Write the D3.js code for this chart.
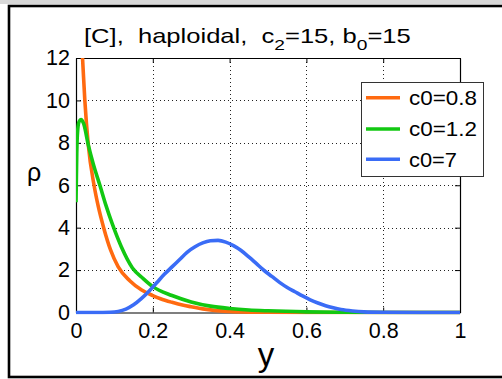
<!DOCTYPE html>
<html>
<head>
<meta charset="utf-8">
<script src="https://d3js.org/d3.v7.min.js"></script>
<style>
  html, body { margin: 0; padding: 0; background: #fff; }
  svg { display: block; font-family: "Liberation Sans", Arial, Helvetica, sans-serif; }
</style>
</head>
<body>
<svg id="chart" width="502" height="379"></svg>
<script>
// Density profiles rho(y) for three values of c0
const seriesNames = ["c0=0.8", "c0=1.2", "c0=7"];
const seriesColors = ["#ff6a10", "#12c812", "#3a6cf6"];

const orangeX = [0.013, 0.017, 0.023, 0.032, 0.047, 0.058, 0.072, 0.09, 0.11, 0.14, 0.171, 0.2, 0.22, 0.25, 0.28, 0.3, 0.33, 0.36, 0.4, 0.45, 0.5, 0.6, 0.8, 1.0];
const orangeY = [13.2, 12.0, 10.0, 7.9, 6.0, 5.0, 4.0, 2.95, 2.15, 1.5, 1.06, 0.8, 0.65, 0.48, 0.34, 0.27, 0.17, 0.1, 0.05, 0.02, 0.01, 0, 0, 0];

const greenX = [0, 0.002, 0.004, 0.008, 0.013, 0.02, 0.032, 0.045, 0.063, 0.078, 0.095, 0.118, 0.147, 0.175, 0.2, 0.25, 0.3, 0.35, 0.4, 0.45, 0.5, 0.6, 0.7, 0.8, 1.0];
const greenY = [5.2, 7.5, 8.5, 9.0, 9.1, 8.9, 7.9, 7.0, 5.95, 5.05, 4.15, 3.1, 2.1, 1.6, 1.22, 0.8, 0.5, 0.3, 0.19, 0.12, 0.08, 0.03, 0.01, 0, 0];

const blueX = [0, 0.05, 0.09, 0.11, 0.13, 0.15, 0.17, 0.19, 0.21, 0.23, 0.25, 0.27, 0.29, 0.31, 0.33, 0.35, 0.37, 0.39, 0.41, 0.43, 0.45, 0.47, 0.49, 0.51, 0.53, 0.55, 0.57, 0.59, 0.61, 0.63, 0.65, 0.67, 0.69, 0.72, 0.75, 0.8, 0.9, 1.0];
const blueY = [0, 0, 0.01, 0.05, 0.16, 0.36, 0.65, 1.0, 1.4, 1.8, 2.15, 2.5, 2.85, 3.1, 3.28, 3.38, 3.4, 3.32, 3.15, 2.92, 2.62, 2.3, 1.98, 1.7, 1.42, 1.18, 0.98, 0.78, 0.6, 0.45, 0.32, 0.22, 0.14, 0.07, 0.03, 0.01, 0, 0];

const xTicks = [0, 0.2, 0.4, 0.6, 0.8, 1];
const yTicks = [0, 2, 4, 6, 8, 10, 12];

const series = [
  { name: seriesNames[0], color: seriesColors[0], pts: orangeX.map((x, i) => [x, orangeY[i]]) },
  { name: seriesNames[1], color: seriesColors[1], pts: greenX.map((x, i) => [x, greenY[i]]) },
  { name: seriesNames[2], color: seriesColors[2], pts: blueX.map((x, i) => [x, blueY[i]]) }
];

const svg = d3.select("#chart");
const plot = { left: 76, right: 460, top: 58, bottom: 312.5 };

const x = d3.scaleLinear().domain([0, 1]).range([plot.left, plot.right]);
const y = d3.scaleLinear().domain([0, 12]).range([plot.bottom, plot.top]);

// stretch a text element horizontally to a given width, keeping its left edge
function fitWidth(sel, x0, width) {
  const w = sel.node().getComputedTextLength();
  sel.attr("transform", `translate(${x0},0) scale(${width / w},1) translate(${-x0},0)`);
}

// figure frame
svg.append("rect").attr("x", 0).attr("y", 0).attr("width", 502).attr("height", 4).attr("fill", "#d8d8d8");
svg.append("rect").attr("x", 9).attr("y", 6).attr("width", 500).attr("height", 371)
  .attr("fill", "#fff").attr("stroke", "#000").attr("stroke-width", 2.6);

// plot background
svg.append("rect").attr("x", plot.left).attr("y", plot.top)
  .attr("width", plot.right - plot.left).attr("height", plot.bottom - plot.top).attr("fill", "#fff");

// dotted grid
const grid = svg.append("g").attr("stroke", "#222").attr("stroke-width", 1).attr("stroke-dasharray", "1,3");
grid.selectAll("line.gx").data(xTicks.slice(1, -1)).join("line")
  .attr("x1", d => Math.round(x(d)) + 0.5).attr("x2", d => Math.round(x(d)) + 0.5)
  .attr("y1", plot.top).attr("y2", plot.bottom);
grid.selectAll("line.gy").data(yTicks.slice(1, -1)).join("line")
  .attr("y1", d => Math.round(y(d)) + 0.5).attr("y2", d => Math.round(y(d)) + 0.5)
  .attr("x1", plot.left).attr("x2", plot.right);

// axes with inward ticks
const fmt = d => String(d);
const axB = svg.append("g").attr("transform", `translate(0,${plot.bottom})`)
  .call(d3.axisBottom(x).tickValues(xTicks).tickFormat(fmt).tickSizeInner(-5).tickSizeOuter(0).tickPadding(10));
const axL = svg.append("g").attr("transform", `translate(${plot.left},0)`)
  .call(d3.axisLeft(y).tickValues(yTicks).tickFormat(fmt).tickSizeInner(-5).tickSizeOuter(0).tickPadding(6));
const axT = svg.append("g").attr("transform", `translate(0,${plot.top})`)
  .call(d3.axisTop(x).tickValues(xTicks).tickFormat("").tickSizeInner(-5).tickSizeOuter(0));
const axR = svg.append("g").attr("transform", `translate(${plot.right},0)`)
  .call(d3.axisRight(y).tickValues(yTicks).tickFormat("").tickSizeInner(-5).tickSizeOuter(0));
[axB, axL, axT, axR].forEach(g => {
  g.selectAll("path.domain").attr("stroke", "#000").attr("stroke-width", 1.2);
  g.selectAll(".tick line").attr("stroke", "#000");
  g.selectAll("text").attr("font-size", 21.5).attr("fill", "#000")
    .attr("font-family", "'Liberation Sans', Arial, sans-serif");
});

// curves
svg.append("clipPath").attr("id", "plotclip").append("rect")
  .attr("x", plot.left).attr("y", plot.top)
  .attr("width", plot.right - plot.left).attr("height", plot.bottom - plot.top + 2);

const line = d3.line().x(d => x(d[0])).y(d => y(d[1])).curve(d3.curveMonotoneX);
svg.append("g").attr("clip-path", "url(#plotclip)")
  .selectAll("path").data(series).join("path")
  .attr("d", d => line(d.pts))
  .attr("fill", "none").attr("stroke", d => d.color)
  .attr("stroke-width", 3.6).attr("stroke-linejoin", "round");

// title
const title = svg.append("text").attr("x", 84).attr("y", 43).attr("font-size", 20)
  .attr("fill", "#000").style("white-space", "pre");
title.append("tspan").text("[C],  haploidal,  c");
title.append("tspan").attr("font-size", 15).attr("dy", 7).text("2");
title.append("tspan").attr("dy", -7).text("=15, b");
title.append("tspan").attr("font-size", 15).attr("dy", 7).text("0");
title.append("tspan").attr("dy", -7).text("=15");
fitWidth(title, 84, 327);

// axis labels
svg.append("text").attr("x", 266).attr("y", 366).attr("text-anchor", "middle")
  .attr("font-size", 33).attr("fill", "#000").text("y");
svg.append("text").attr("x", 34).attr("y", 181).attr("text-anchor", "middle")
  .attr("font-size", 25).attr("fill", "#000").text("ρ");

// legend
const leg = svg.append("g");
leg.append("rect").attr("x", 361.5).attr("y", 82.5).attr("width", 122).attr("height", 94)
  .attr("fill", "#fff").attr("stroke", "#333").attr("stroke-width", 1);
const legY = [97.7, 129, 159.3];
const legW = [68, 68, 48];
series.forEach((s, i) => {
  leg.append("line").attr("x1", 366).attr("x2", 400).attr("y1", legY[i]).attr("y2", legY[i])
    .attr("stroke", s.color).attr("stroke-width", 3.6);
  const t = leg.append("text").attr("x", 409).attr("y", legY[i] + 7.5).attr("font-size", 20.5)
    .attr("fill", "#000").text(s.name);
  fitWidth(t, 409, legW[i]);
});
</script>
</body>
</html>
